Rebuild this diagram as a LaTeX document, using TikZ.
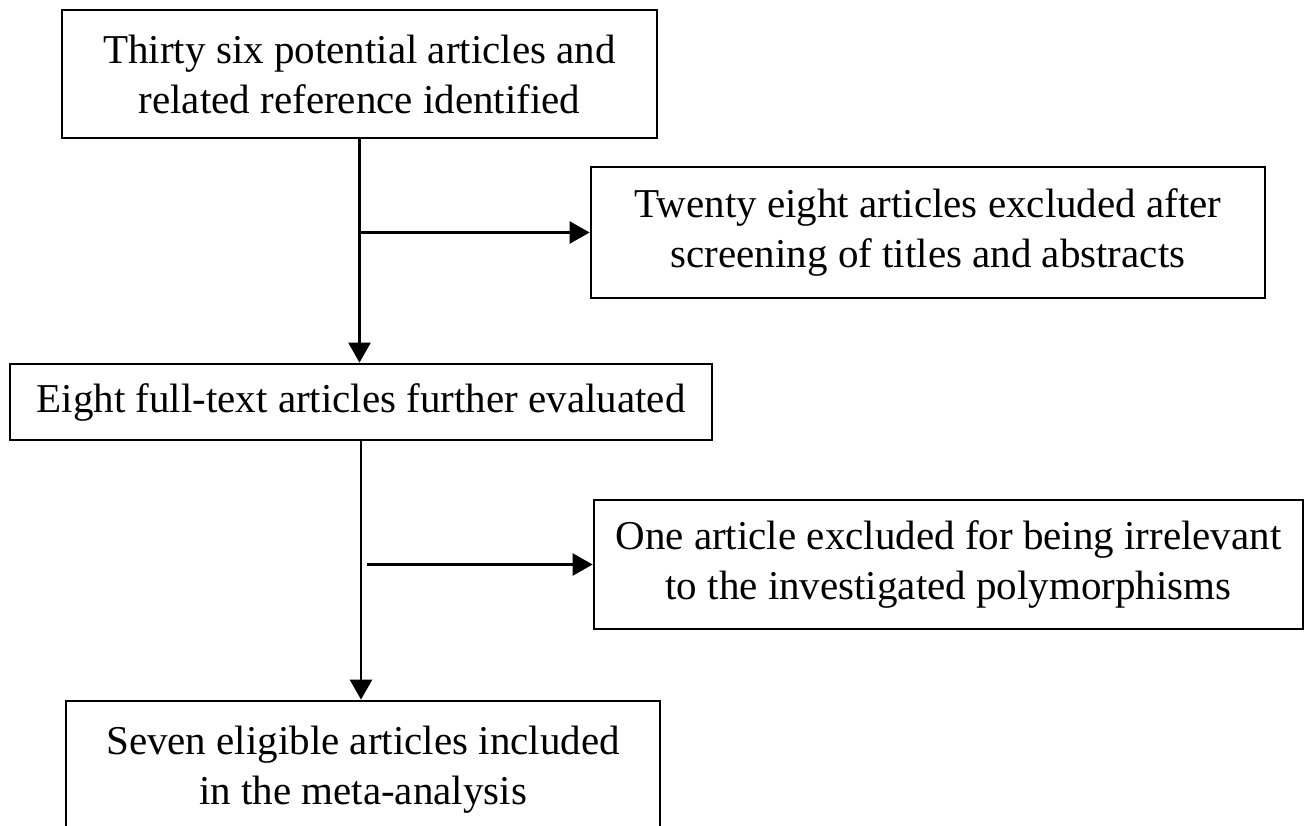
\documentclass[tikz,border=0pt]{standalone}
\usepackage{fontspec}
\setmainfont{Liberation Serif}
\usetikzlibrary{arrows.meta}

\begin{document}
\begin{tikzpicture}[
    x=0.5pt, y=-0.5pt,
    >={Triangle[length=10pt,width=11pt]},
    font=\fontsize{20.5}{25}\selectfont,
    stage/.style={
      draw=black,
      line width=1.4pt,
      inner sep=0pt,
      align=center,
    },
    flow/.style={->, line width=1.3pt},
  ]
    \clip (0,0) rectangle (1306,825);

    \node[stage, minimum width=297.5pt, minimum height=64pt] (ident) at (359.5,74)
      {Thirty six potential articles and\\related reference identified};
    \node[stage, minimum width=337pt, minimum height=65.5pt] (screen) at (928,232.5)
      {Twenty eight articles excluded after\\screening of titles and abstracts};
    \node[stage, minimum width=351pt, minimum height=38pt] (full) at (361,402)
      {Eight full-text articles further evaluated};
    \node[stage, minimum width=354.5pt, minimum height=64.5pt] (irrel) at (948.5,564.5)
      {One article excluded for being irrelevant\\to the investigated polymorphisms};
    \node[stage, minimum width=297pt, minimum height=69pt] (incl) at (363,770)
      {Seven eligible articles included\\in the meta-analysis};

    % junctions on the main line
    \coordinate (j1) at (ident.south |- screen.west);
    \coordinate (j2) at ([xshift=3pt]full.south |- irrel.west);

    \draw[flow] (ident.south) -- (ident.south |- full.north);
    \draw[flow] (j1) -- (screen.west);
    \draw[flow] (full.south) -- (full.south |- incl.north);
    \draw[flow] (j2) -- (irrel.west);
  \end{tikzpicture}
\end{document}
